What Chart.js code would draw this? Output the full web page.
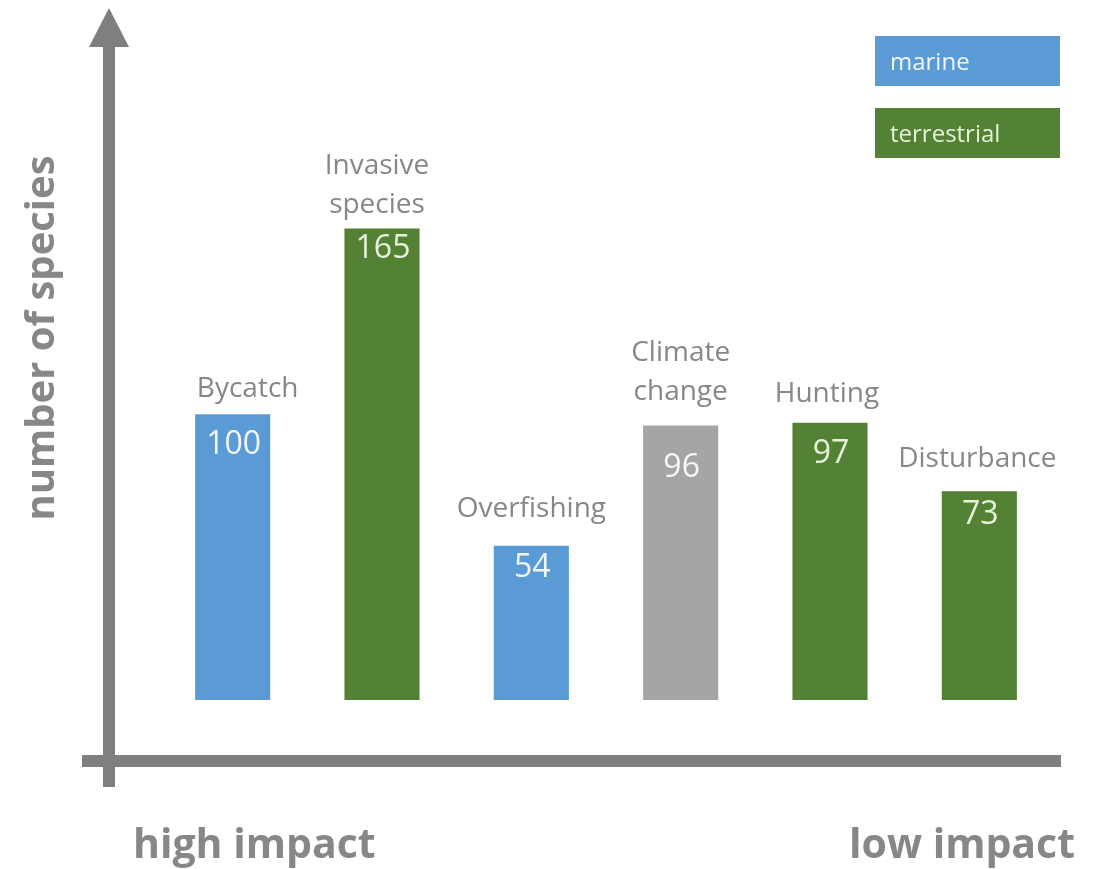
<!DOCTYPE html>
<html>
<head>
<meta charset="utf-8">
<script src="https://cdn.jsdelivr.net/npm/chart.js@4"></script>
<style>
  html, body { margin: 0; padding: 0; background: #fff; }
  #wrap { width: 1096px; height: 869px; position: relative; }
</style>
</head>
<body>
<div id="wrap"><canvas id="chart" width="1096" height="869"></canvas></div>
<script>
// data
var categories = [['Bycatch'], ['Invasive', 'species'], ['Overfishing'], ['Climate', 'change'], ['Hunting'], ['Disturbance']];
var speciesCounts = [100, 165, 54, 96, 97, 73];
var habitats = ['marine', 'terrestrial', 'marine', 'other', 'terrestrial', 'terrestrial'];
var legendNames = ['marine', 'terrestrial'];
var yTitle = 'number of species';
var leftNote = 'high impact';
var rightNote = 'low impact';

// styling - the labels in the original were placed by hand, so a small nudge per bar
var colors = { marine: '#5b9bd5', terrestrial: '#548235', other: '#a5a5a5' };
var valueText = { marine: '#f0f6fc', terrestrial: '#e6f2da', other: '#f6f6f6' };
var labelGap = [17, 15, 29, 26, 21, 24];
var labelNudge = [15, -5, 0, 0, -3, -2];
var valueDrop = [40, 30, 31, 51, 40, 33];
var axisGray = '#7f7f7f';
var textGray = '#878787';
var fontFamily = '"Open Sans", Lato, sans-serif';

var decorPlugin = {
    id: 'decor',
    beforeDraw: function (chart) {
        var ctx = chart.ctx;
        var area = chart.chartArea;
        var axisY = area.bottom + 61;
        var axisX = 109;
        ctx.save();
        ctx.fillStyle = axisGray;
        // horizontal axis
        ctx.fillRect(82, axisY - 6, 979, 12);
        // vertical axis + arrow
        ctx.fillRect(axisX - 6, 45, 12, axisY + 26 - 45);
        ctx.beginPath();
        ctx.moveTo(axisX, 8);
        ctx.lineTo(axisX + 20, 47);
        ctx.lineTo(axisX - 20, 47);
        ctx.closePath();
        ctx.fill();

        // y title
        ctx.fillStyle = textGray;
        ctx.font = 'bold 40px ' + fontFamily;
        ctx.textAlign = 'center';
        ctx.textBaseline = 'alphabetic';
        ctx.translate(54, 338);
        ctx.rotate(-Math.PI / 2);
        ctx.fillText(yTitle, 0, 0);
        ctx.restore();

        ctx.save();
        ctx.fillStyle = textGray;
        ctx.font = 'bold 41px ' + fontFamily;
        ctx.textBaseline = 'alphabetic';
        ctx.textAlign = 'left';
        ctx.fillText(leftNote, 133, 858);
        ctx.textAlign = 'right';
        ctx.fillText(rightNote, 1075, 858);

        // legend boxes
        ctx.font = '24px ' + fontFamily;
        ctx.textAlign = 'left';
        legendNames.forEach(function (name, i) {
            var top = 36 + i * 72;
            ctx.fillStyle = colors[name];
            ctx.fillRect(875, top, 185, 50);
            ctx.fillStyle = valueText[name];
            ctx.fillText(name, 890, top + 34);
        });
        ctx.restore();
    },
    afterDatasetsDraw: function (chart) {
        var ctx = chart.ctx;
        var meta = chart.getDatasetMeta(0);
        ctx.save();
        ctx.textAlign = 'center';
        ctx.textBaseline = 'alphabetic';
        meta.data.forEach(function (bar, i) {
            // value inside bar
            ctx.fillStyle = valueText[habitats[i]];
            ctx.font = '32px ' + fontFamily;
            ctx.fillText(String(speciesCounts[i]), bar.x + 1, bar.y + valueDrop[i]);
            // category label above bar
            ctx.fillStyle = textGray;
            ctx.font = '28px ' + fontFamily;
            var lines = categories[i];
            for (var k = 0; k < lines.length; k++) {
                var fromBottom = lines.length - 1 - k;
                ctx.fillText(lines[k], bar.x + labelNudge[i], bar.y - labelGap[i] - fromBottom * 39);
            }
        });
        ctx.restore();
    }
};

var chart = new Chart(document.getElementById('chart'), {
    type: 'bar',
    data: {
        labels: categories,
        datasets: [{
            data: speciesCounts,
            backgroundColor: habitats.map(function (h) { return colors[h]; }),
            borderWidth: 0,
            barPercentage: 1,
            categoryPercentage: 0.503
        }]
    },
    options: {
        responsive: false,
        animation: false,
        events: [],
        layout: { padding: { left: 158, right: 42, top: 14, bottom: 169 } },
        plugins: { legend: { display: false }, tooltip: { enabled: false } },
        scales: {
            x: { display: false },
            y: { display: false, min: 0, max: 240 }
        }
    },
    plugins: [decorPlugin]
});
</script>
</body>
</html>
